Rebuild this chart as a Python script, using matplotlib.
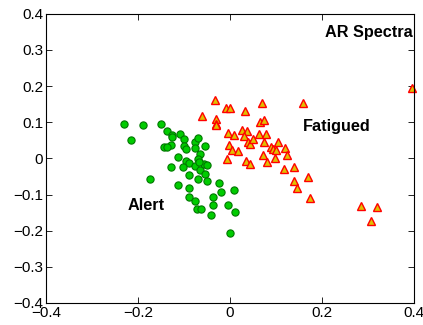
import matplotlib
matplotlib.use("Agg")
import matplotlib.pyplot as plt
import numpy as np

plt.rcParams['font.family'] = ['Liberation Sans', 'DejaVu Sans']

# AR spectra projection: alert epochs
alert_x = [-0.230, -0.190, -0.215, -0.149, -0.136, -0.126, -0.126, -0.128, -0.144, -0.138,
           -0.108, -0.099, -0.099, -0.095, -0.075, -0.070, -0.076, -0.054, -0.066, -0.113,
           -0.069, -0.095, -0.090, -0.128, -0.103, -0.077, -0.066, -0.057, -0.050, -0.055,
           -0.090, -0.069, -0.050, -0.173, -0.112, -0.090, -0.024, -0.020, 0.009, -0.089,
           -0.076, -0.036, -0.036, -0.072, -0.062, -0.004, 0.011, -0.041, 0.001, -0.068]
alert_y = [0.095, 0.091, 0.050, 0.095, 0.077, 0.065, 0.058, 0.037, 0.031, 0.031,
           0.067, 0.054, 0.034, 0.027, 0.045, 0.055, 0.029, 0.035, 0.013, 0.003,
           -0.002, -0.007, -0.013, -0.023, -0.023, -0.021, -0.033, -0.015, -0.018, -0.042,
           -0.045, -0.058, -0.063, -0.058, -0.074, -0.083, -0.067, -0.094, -0.087, -0.106,
           -0.117, -0.108, -0.129, -0.139, -0.139, -0.130, -0.147, -0.158, -0.207, -0.010]

# AR spectra projection: fatigued epochs
fatigued_x = [-0.033, -0.060, -0.031, -0.030, -0.031, -0.008, -0.001, 0.032, 0.069, 0.159,
              0.396, 0.066, 0.074, -0.004, 0.009, 0.026, 0.036, 0.031, 0.039, 0.043,
              0.050, 0.063, 0.079, 0.074, 0.105, 0.090, 0.094, 0.101, 0.119, 0.123,
              0.097, 0.071, 0.081, -0.002, 0.005, 0.017, -0.007, 0.035, 0.043, 0.117,
              0.139, 0.169, 0.140, 0.146, 0.175, 0.284, 0.319, 0.306]
fatigued_y = [0.161, 0.117, 0.110, 0.096, 0.093, 0.138, 0.138, 0.131, 0.152, 0.152,
              0.195, 0.100, 0.106, 0.069, 0.064, 0.079, 0.075, 0.061, 0.046, 0.041,
              0.054, 0.067, 0.067, 0.046, 0.044, 0.032, 0.025, 0.023, 0.028, 0.008,
              0.000, 0.009, -0.011, 0.038, 0.022, 0.021, -0.003, -0.008, -0.016, -0.029,
              -0.025, -0.051, -0.063, -0.083, -0.110, -0.133, -0.135, -0.173]

ticks = [-0.4, -0.2, 0, 0.2, 0.4]
yticks = [-0.4, -0.3, -0.2, -0.1, 0, 0.1, 0.2, 0.3, 0.4]

fig = plt.figure(figsize=(4.23, 3.25), dpi=100)
ax = fig.add_axes([0.1087, 0.0677, 0.870, 0.890])

ax.plot(alert_x, alert_y, 'o', ms=5.2, mfc='#00cc00', mec='#007700', mew=0.8,
        linestyle='none', clip_on=False)
ax.plot(fatigued_x, fatigued_y, '^', ms=6.2, mfc='#e0c000', mec='#ff0000', mew=1.0,
        linestyle='none', clip_on=False)

ax.set_xlim(-0.4, 0.4)
ax.set_ylim(-0.4, 0.4)
ax.set_xticks(ticks)
ax.set_yticks(yticks)
ax.set_xticklabels(['\u22120.4', '\u22120.2', '0', '0.2', '0.4'])
ax.set_yticklabels(['\u22120.4', '\u22120.3', '\u22120.2', '\u22120.1', '0',
                    '0.1', '0.2', '0.3', '0.4'])
ax.tick_params(direction='in', top=True, right=True, length=4, width=0.6,
               labelsize=11, pad=2)
for s in ax.spines.values():
    s.set_linewidth(0.8)

ax.text(0.207, 0.349, 'AR Spectra', fontsize=11.7, fontweight='bold', va='center', ha='left')
ax.text(0.159, 0.087, 'Fatigued', fontsize=11.7, fontweight='bold', va='center', ha='left')
ax.text(-0.222, -0.129, 'Alert', fontsize=11.7, fontweight='bold', va='center', ha='left')

fig.savefig('out.png', dpi=100)
